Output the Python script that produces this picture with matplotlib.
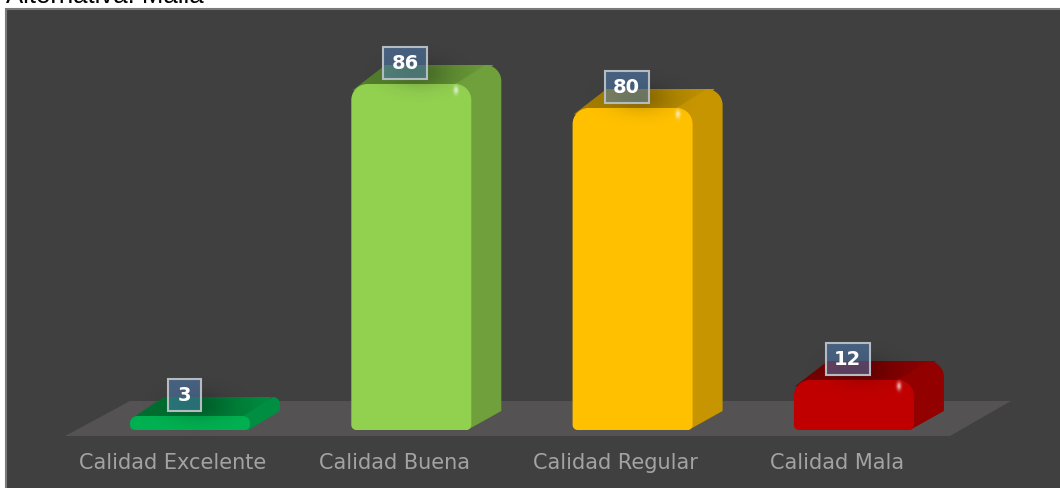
"""Calidad chart: 3D-look rounded columns on a dark panel."""

import matplotlib

matplotlib.use("Agg")
import matplotlib.pyplot as plt
import numpy as np
from matplotlib.colors import to_rgb
from matplotlib.patches import PathPatch, Polygon, Rectangle
from matplotlib.path import Path

categories = ["Calidad Excelente", "Calidad Buena", "Calidad Regular", "Calidad Mala"]
values = [3, 86, 80, 12]
front_colors = ["#00b050", "#92d050", "#ffc000", "#c00000"]
side_colors = ["#008f42", "#70a03c", "#c69500", "#930000"]
top_colors = ["#006e30", "#527d2c", "#a37c00", "#730000"]
title = "Alternativa: Malla"

# one category = 221.3 px, one value unit = 4 px
PX_X = 221.3
PX_Y = 4.0
BAR_W = 120 / PX_X
DEPTH_X = 30 / PX_X
DEPTH_Y = 19 / PX_Y
BOTTOM = -2 / PX_Y
K = 0.45


def rounded_rect(x0, x1, y0, y1, r_top, r_bot):
    """Rectangle path with rounded corners, radii in px."""
    rx, ry = r_top / PX_X, r_top / PX_Y
    bx, by = r_bot / PX_X, r_bot / PX_Y
    verts = [
        (x0, y0 + by), (x0, y1 - ry),
        (x0, y1 - ry * K), (x0 + rx * K, y1), (x0 + rx, y1),
        (x1 - rx, y1),
        (x1 - rx * K, y1), (x1, y1 - ry * K), (x1, y1 - ry),
        (x1, y0 + by),
        (x1, y0 + by * K), (x1 - bx * K, y0), (x1 - bx, y0),
        (x0 + bx, y0),
        (x0 + bx * K, y0), (x0, y0 + by * K), (x0, y0 + by),
        (x0, y0 + by),
    ]
    c3 = [Path.CURVE4] * 3
    codes = [Path.MOVETO, Path.LINETO] + c3 + [Path.LINETO] + c3 + [Path.LINETO] + c3 + \
            [Path.LINETO] + c3 + [Path.CLOSEPOLY]
    return Path(verts, codes)


def side_path(x1, val, r):
    """Right hand face, running back from the front edge with a rounded top."""
    rx, ry = r / PX_X, r / PX_Y
    xb = x1 + DEPTH_X
    yb = val + DEPTH_Y
    verts = [
        (x1 - 3 * rx / 4, BOTTOM), (x1 - rx / 4, BOTTOM), (xb, BOTTOM + DEPTH_Y),
        (xb, yb - ry),
        (xb, yb - ry * K), (xb - rx * K, yb), (xb - rx, yb),
        (x1 - rx, val),
        (x1 - rx, val),
    ]
    codes = [Path.MOVETO, Path.LINETO, Path.LINETO, Path.LINETO,
             Path.CURVE4, Path.CURVE4, Path.CURVE4, Path.LINETO, Path.CLOSEPOLY]
    return Path(verts, codes)


def gradient(ax, clip, extent, c0, c1, zorder):
    """Fill a clip patch with a horizontal two-colour ramp."""
    ramp = np.linspace(0, 1, 64)
    rgb = np.outer(1 - ramp ** 2, to_rgb(c0)) + np.outer(ramp ** 2, to_rgb(c1))
    im = ax.imshow(rgb[np.newaxis, :, :], extent=extent, aspect="auto", origin="lower",
                   interpolation="bilinear", zorder=zorder)
    im.set_clip_path(clip)


def soft_blob(ax, cx, cy, w_px, h_px, color, strength, zorder):
    """Blurred elliptical spot, used for the box shadow and the glint."""
    gx, gy = np.meshgrid(np.linspace(-2.5, 2.5, 80), np.linspace(-2.5, 2.5, 80))
    rgba = np.zeros((80, 80, 4))
    rgba[..., :3] = to_rgb(color)
    rgba[..., 3] = strength * np.exp(-(gx ** 2 + gy ** 2) / 1.4)
    ax.imshow(rgba, extent=(cx - w_px / PX_X, cx + w_px / PX_X, cy - h_px / PX_Y, cy + h_px / PX_Y),
              aspect="auto", origin="lower", interpolation="bilinear", zorder=zorder)


plt.rcParams["font.family"] = "DejaVu Sans"
fig = plt.figure(figsize=(10.6, 4.89), dpi=100, facecolor="white")
ax = fig.add_axes([0, 0, 1, 1])

xlim = (-190 / PX_X, 870 / PX_X)
ylim = (-60 / PX_Y, 429 / PX_Y)

# panel and floor
ax.add_patch(Rectangle((xlim[0] + 6 / PX_X, ylim[0] - 1), 1060 / PX_X, 419 / PX_Y + 60 / PX_Y + 1,
                       fc="#404040", ec="#7a7a7a", lw=1.5, zorder=0))
ax.add_patch(Polygon([(-125 / PX_X, -8 / PX_Y), (760 / PX_X, -8 / PX_Y),
                      (821 / PX_X, 27 / PX_Y), (-60 / PX_X, 27 / PX_Y)],
                     closed=True, fc="#545252", ec="none", zorder=1))

for i, (name, val) in enumerate(zip(categories, values)):
    x0, x1 = i - BAR_W / 2, i + BAR_W / 2
    r_top = 16 if val > 10 else 7
    r_bot = 5

    # top face, dark in the middle and lighter towards the back right
    top = Polygon([(x0 + 1 / PX_X, val - r_top * 0.4 / PX_Y),
                   (x0 + (DEPTH_X + 4 / PX_X), val + DEPTH_Y),
                   (x1 + DEPTH_X - 8 / PX_X, val + DEPTH_Y),
                   (x1 - 4 / PX_X, val - 1)],
                  closed=True, fc="none", ec="none", zorder=2)
    ax.add_patch(top)
    gradient(ax, top, (x0, x1 + DEPTH_X, val - 2, val + DEPTH_Y), top_colors[i], side_colors[i], 2)

    # side face
    side = PathPatch(side_path(x1, val, r_top), fc=side_colors[i], ec="none", zorder=2.5)
    ax.add_patch(side)

    # front face
    front = PathPatch(rounded_rect(x0, x1, BOTTOM, val, r_top, r_bot),
                      fc=front_colors[i], ec="none", zorder=3)
    ax.add_patch(front)

    # glint near the top right corner
    if val > 10:
        soft_blob(ax, x1 - 15 / PX_X, val - 6 / PX_Y, 5, 9, "white", 0.7, 3.5)

    # soft shadow under the value box
    cx = i - 6 / PX_X
    cy = val + 5.25
    soft_blob(ax, cx + 14 / PX_X, cy - 10 / PX_Y, 60, 32, "black", 0.2, 4)

    # value box
    half = 16.5 if val < 10 else 22
    box = ((cx - half / PX_X, cy - 16 / PX_Y), 2 * half / PX_X, 32 / PX_Y)
    ax.add_patch(Rectangle(*box, fc="#4f81bd", alpha=0.5, ec="none", zorder=5))
    ax.add_patch(Rectangle(*box, fc="none", ec="#b4bcc2", lw=1.5, zorder=5.5))
    ax.text(cx, cy, str(val), color="white", fontsize=14, fontweight="bold",
            ha="center", va="center", zorder=6)

    ax.text(i - 17 / PX_X, -34 / PX_Y, name, color="#a3a3a3", fontsize=15,
            ha="center", va="center", zorder=6)

ax.text(6 / 1060, 1 - 3 / 489, title, color="black", fontsize=18.5, family="Liberation Sans",
        transform=ax.transAxes, ha="left", va="baseline", zorder=0.5)

ax.set_xlim(xlim)
ax.set_ylim(ylim)
ax.axis("off")
fig.savefig("out.png", dpi=100, facecolor="white")
